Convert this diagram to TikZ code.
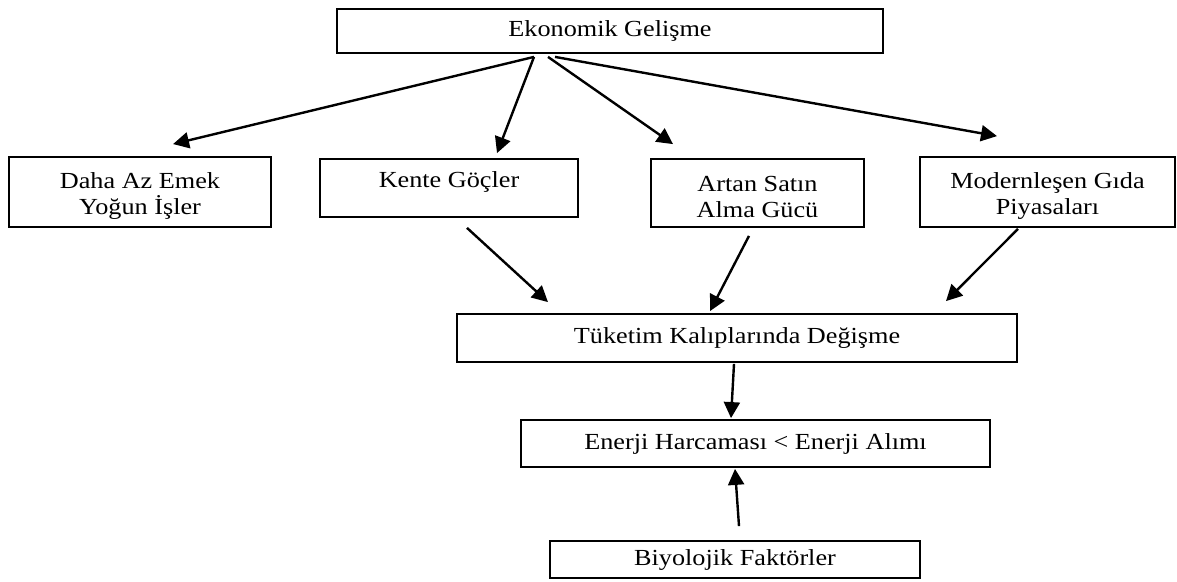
\documentclass[tikz,border=0pt]{standalone}
\usepackage{fontspec}
\setmainfont{Liberation Serif}[FakeStretch=1.14]
\usetikzlibrary{arrows.meta,calc}
\newcommand\mytopstrut{\rule{0pt}{23pt}}
\begin{document}
\begin{tikzpicture}[x=1pt,y=-1pt,
  box/.style={draw, line width=1.8pt, inner sep=0pt, align=center,
    font=\fontsize{23}{26}\selectfont},
  arr/.style={line width=2.4pt, -{Triangle[length=16pt,width=16pt]}}]
\useasboundingbox (0,0) rectangle (1177,581);
\fill[white] (0,0) rectangle (1177,581);
% boxes
\node[box, minimum width=546pt, minimum height=44pt] (top) at (610,31) {Ekonomik Gelişme};
\node[box, minimum width=262pt, minimum height=70pt] (daha) at (140,192) {\mytopstrut Daha Az Emek\\Yoğun İşler};
\node[box, minimum width=258pt, minimum height=58pt, text height=16pt, text depth=17pt] (kente) at (449,188) {Kente Göçler};
\node[box, minimum width=213pt, minimum height=68pt] (artan) at (757.5,193) {\mytopstrut Artan Satın\\Alma Gücü};
\node[box, minimum width=255pt, minimum height=70pt] (modern) at (1047.5,192) {\mytopstrut Modernleşen Gıda\\Piyasaları};
\node[box, minimum width=560pt, minimum height=48pt] (tuketim) at (737,338) {Tüketim Kalıplarında Değişme};
\node[box, minimum width=469pt, minimum height=47pt] (enerji) at (755.5,443.5) {Enerji Harcaması < Enerji Alımı};
\node[box, minimum width=370pt, minimum height=37pt] (biyo) at (735,559.5) {Biyolojik Faktörler};
% arrows
\draw[arr] ([xshift=-76pt,yshift=-3pt]top.south) -- ([xshift=33pt,yshift=12pt]daha.north);
\draw[arr] ([xshift=-76pt,yshift=-3pt]top.south) -- ([xshift=48pt,yshift=5pt]kente.north);
\draw[arr] ([xshift=-62pt,yshift=-3pt]top.south) -- ([xshift=-84.5pt,yshift=14pt]artan.north);
\draw[arr] ([xshift=-55pt,yshift=-3pt]top.south) -- ([xshift=-50.5pt,yshift=20pt]modern.north);
\draw[arr] ([xshift=18pt,yshift=-10pt]kente.south) -- ([xshift=-189pt,yshift=11pt]tuketim.north);
\draw[arr] ([xshift=-8.5pt,yshift=-8pt]artan.south) -- ([xshift=-27pt,yshift=2pt]tuketim.north);
\draw[arr] ([xshift=-29.5pt,yshift=-1pt]modern.south) -- ([xshift=209pt,yshift=12pt]tuketim.north);
\draw[arr] ([xshift=-3pt,yshift=-1pt]tuketim.south) -- ([xshift=-24.5pt,yshift=1pt]enerji.north);
\draw[arr] ([xshift=4pt,yshift=14pt]biyo.north) -- ([xshift=-20.5pt,yshift=-1pt]enerji.south);
\end{tikzpicture}
\end{document}
